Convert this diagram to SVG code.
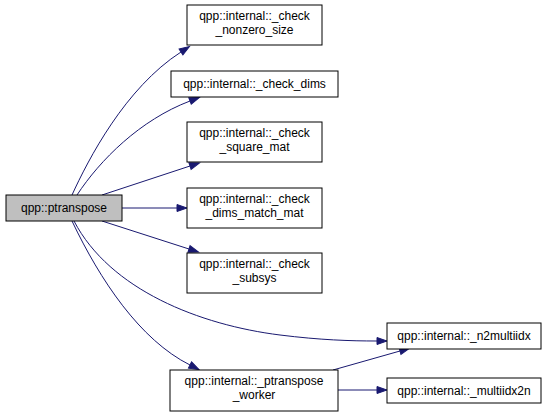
<svg xmlns="http://www.w3.org/2000/svg" width="549" height="416" viewBox="0 0 549 416">
<style>
.node rect{fill:#ffffff;stroke:#000000;stroke-width:1}
.node.root rect{fill:#bfbfbf}
.node text{font-family:"Liberation Sans",Arial,sans-serif;font-size:12px;fill:#000000;text-anchor:middle}
.edges path{fill:none;stroke:#191970;stroke-width:1;marker-end:url(#arrow)}
</style>
<defs>
<marker id="arrow" viewBox="0 -4 10 8" refX="0" refY="0" markerWidth="10" markerHeight="8" markerUnits="userSpaceOnUse" orient="auto" overflow="visible">
<path d="M0,-3.5 L10,0 L0,3.5 z" fill="#191970" stroke="#191970" stroke-width="1"/>
</marker>
</defs>
<rect x="0" y="0" width="549" height="416" fill="#ffffff"/>
<g class="edges" id="edges">
<path d="M72,195 C88,160 125,88 181,52"/>
<path d="M77,195 C100,160 140,120 190,101"/>
<path d="M102,195 L190,166"/>
<path d="M122,208 L177,208"/>
<path d="M102,221 L189,249"/>
<path d="M74,221 C110,290 200,325 280,335 C320,340 350,341 377,341"/>
<path d="M72,221 C100,280 140,340 190,365"/>
<path d="M333,370 L400,351"/>
<path d="M338,390 L377,390"/>
</g>
<g class="node root" id="node_ptranspose">
<rect x="6" y="195" width="116" height="26"/>
<text x="64" y="212">qpp::ptranspose</text>
</g>
<g class="node" id="node_check_nonzero_size">
<rect x="187" y="5" width="135" height="40"/>
<text x="254.5" y="20">qpp::internal::_check</text>
<text x="254.5" y="34">_nonzero_size</text>
</g>
<g class="node" id="node_check_dims">
<rect x="171" y="71" width="167" height="26"/>
<text x="254.5" y="88">qpp::internal::_check_dims</text>
</g>
<g class="node" id="node_check_square_mat">
<rect x="187" y="122" width="135" height="40"/>
<text x="254.5" y="137">qpp::internal::_check</text>
<text x="254.5" y="151">_square_mat</text>
</g>
<g class="node" id="node_check_dims_match_mat">
<rect x="187" y="188" width="135" height="40"/>
<text x="254.5" y="203">qpp::internal::_check</text>
<text x="254.5" y="217">_dims_match_mat</text>
</g>
<g class="node" id="node_check_subsys">
<rect x="187" y="253" width="135" height="40"/>
<text x="254.5" y="268">qpp::internal::_check</text>
<text x="254.5" y="282">_subsys</text>
</g>
<g class="node" id="node_n2multiidx">
<rect x="387" y="323" width="154" height="26"/>
<text x="464" y="340">qpp::internal::_n2multiidx</text>
</g>
<g class="node" id="node_ptranspose_worker">
<rect x="170" y="370" width="168" height="41"/>
<text x="254" y="385">qpp::internal::_ptranspose</text>
<text x="254" y="399">_worker</text>
</g>
<g class="node" id="node_multiidx2n">
<rect x="387" y="378" width="154" height="25"/>
<text x="464" y="395">qpp::internal::_multiidx2n</text>
</g>
</svg>
